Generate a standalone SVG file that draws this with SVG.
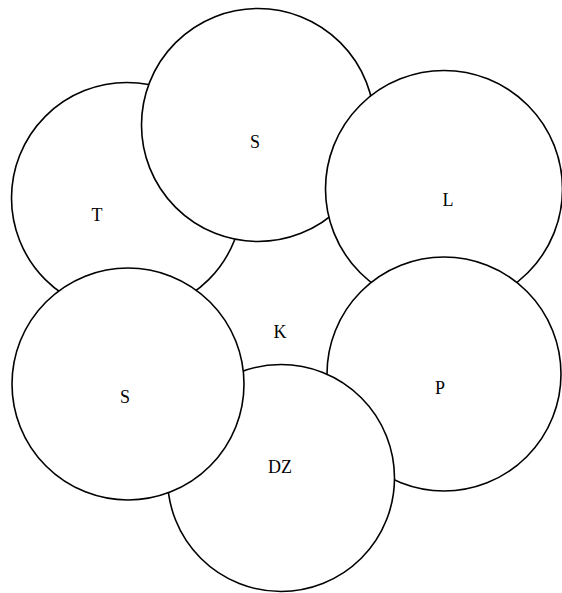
<svg xmlns="http://www.w3.org/2000/svg" width="562" height="593" viewBox="0 0 562 593">
<style>
.c{fill:#fff;stroke:#000;stroke-width:1.6}
.t{font-family:"Liberation Serif","Times New Roman",serif;font-size:18px;fill:#000;text-anchor:middle;dominant-baseline:central}
</style>
<rect width="562" height="593" fill="#fff"/>
<g id="connectors"></g>
<g id="node-T"><circle class="c" cx="127" cy="198" r="115.5"/><text class="t" x="97" y="215">T</text></g>
<g id="node-S-top"><circle class="c" cx="258" cy="125" r="116.5"/><text class="t" x="255" y="142">S</text></g>
<g id="node-L"><circle class="c" cx="444" cy="189" r="118.5"/><text class="t" x="448" y="200">L</text></g>
<g id="node-P"><circle class="c" cx="444" cy="374" r="117"/><text class="t" x="440" y="388">P</text></g>
<g id="node-DZ"><circle class="c" cx="281" cy="478" r="113.5"/><text class="t" x="280" y="467">DZ</text></g>
<g id="node-S-left"><circle class="c" cx="128" cy="384" r="116"/><text class="t" x="125" y="397">S</text></g>
<g id="node-K"><text class="t" x="280" y="332">K</text></g>
</svg>
